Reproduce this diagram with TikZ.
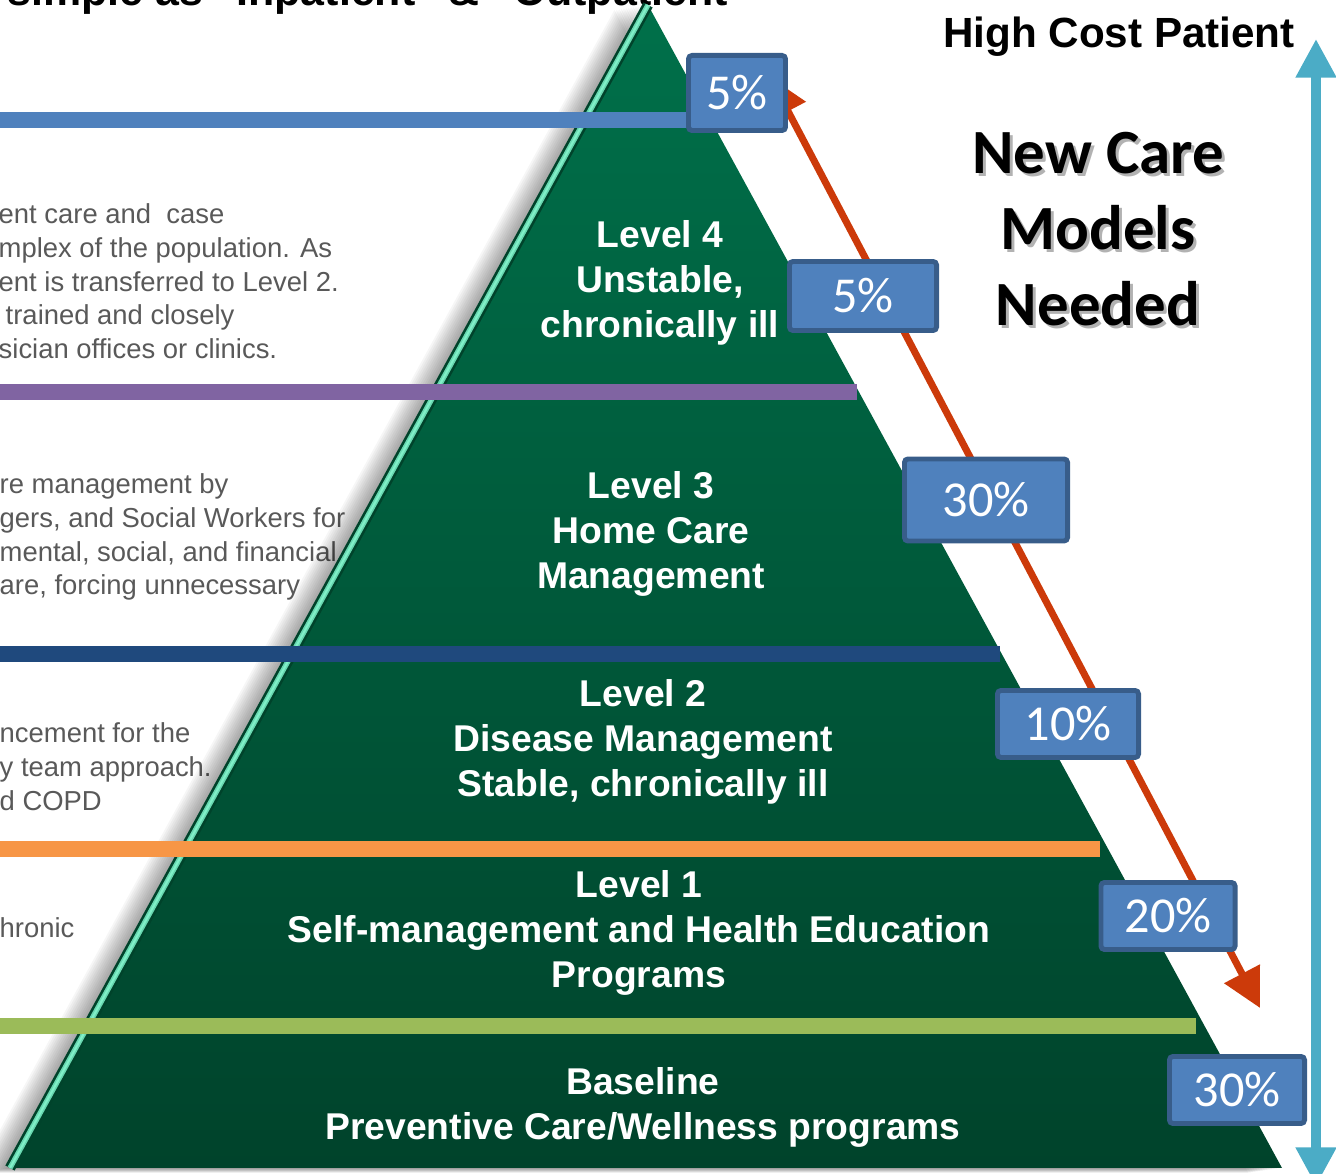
\documentclass[tikz,border=0pt]{standalone}
\usepackage{fontspec}
\setmainfont{Liberation Sans}
\newfontfamily\carlito{Carlito}
\usetikzlibrary{arrows.meta}
\definecolor{pyrtop}{HTML}{00704A}
\definecolor{pyrbot}{HTML}{00432B}
\definecolor{mint}{HTML}{80F0C8}
\definecolor{boxblue}{HTML}{4F81BD}
\definecolor{boxedge}{HTML}{385D8A}
\definecolor{bandpurple}{HTML}{8064A2}
\definecolor{bandnavy}{HTML}{1F497D}
\definecolor{bandorange}{HTML}{F79646}
\definecolor{bandgreen}{HTML}{9BBB59}
\definecolor{costred}{HTML}{CC3A0A}
\definecolor{costblue}{HTML}{4BACC6}
\definecolor{notegray}{HTML}{595959}
\tikzstyle{pct} = [draw=boxedge,line width=1.4pt,fill=boxblue,text=white,rounded corners=1pt,inner sep=0pt,font=\carlito\fontsize{14.3}{16}\selectfont]
\tikzstyle{band} = [line width=4.4pt]
\tikzstyle{level} = [text=white,align=center,inner sep=0pt,font=\bfseries\fontsize{10.6}{12.8}\selectfont]
\tikzstyle{note} = [text=notegray,align=left,anchor=north west,inner sep=0pt,font=\fontsize{7.8}{9.6}\selectfont]
\tikzstyle{costarrow} = [line width=2pt,{Triangle[length=11pt,width=11pt]}-{Triangle[length=11pt,width=11pt]}]
\tikzstyle{bigword} = [align=center,inner sep=0pt,font=\carlito\bfseries\fontsize{17.9}{21.6}\selectfont]

\begin{document}
\begin{tikzpicture}[x=0.01cm,y=-0.01cm]
  \useasboundingbox (0,0) rectangle (1336,1174);
  \node[anchor=base west,inner sep=0pt,font=\bfseries\fontsize{12.2}{14}\selectfont] (title) at (7,6) {simple as “Inpatient” \& “Outpatient”};

  \node[note] (noteA) at (-2,203) {ent care and \ case\\mplex of the population. As\\ent is transferred to Level 2.\\\hspace*{2pt}trained and closely\\sician offices or clinics.};
  \node[note] (noteB) at (-1,473) {re management by\\gers, and Social Workers for\\mental, social, and financial\\are, forcing unnecessary};
  \node[note] (noteC) at (-1,722) {ncement for the\\y team approach.\\d COPD};
  \node[note] (noteD) at (-1,917) {hronic};

  \foreach \s in {1,...,14}
    \fill[black,opacity=0.036,shift={(-2.4*\s,0.35*\s)}] (648,5) -- (1282,1168) -- (10,1168) -- cycle;
  \coordinate (apex) at (648,5);
  \coordinate (br) at (1282,1168);
  \coordinate (bl) at (10,1168);
  \shade[top color=pyrtop,bottom color=pyrbot] (apex) -- (br) -- (bl) -- cycle;
  \draw[line width=3pt,pyrbot] (bl) -- (apex);
  \draw[line width=1.5pt,mint!80!pyrtop] (bl) -- (apex);
  \draw[line width=0.6pt,mint] (bl) -- (apex);

  \draw[band,boxblue] (0,120) -- (690,120);
  \draw[band,bandpurple] (0,392) -- (857,392);
  \draw[band,bandnavy] (0,654) -- (1000,654);
  \draw[band,bandorange] (0,849) -- (1100,849);
  \draw[band,bandgreen] (0,1026) -- (1196,1026);

  \node[level] (lvl4) at (660,283) {Level 4\\Unstable,\\chronically ill};
  \node[level] (lvl3) at (651,534) {Level 3\\Home Care\\Management};
  \node[level] (lvl2) at (643,742) {Level 2\\Disease Management\\Stable, chronically ill};
  \node[level] (lvl1) at (639,933) {Level 1\\Self-management and Health Education\\Programs};
  \node[level] (lvl0) at (643,1107) {Baseline\\Preventive Care/Wellness programs};

  \coordinate (costtop) at (770,77);
  \coordinate (costbot) at (1260,1008);
  \draw[costarrow,costred] (costtop) -- (costbot);

  \node[pct,minimum width=0.97cm,minimum height=0.75cm] (p4a) at (737,93) {5\%};
  \node[pct,minimum width=1.47cm,minimum height=0.69cm] (p4b) at (863,296) {5\%};
  \node[pct,minimum width=1.63cm,minimum height=0.82cm] (p3) at (986,500) {30\%};
  \node[pct,minimum width=1.41cm,minimum height=0.67cm] (p2) at (1068,724) {10\%};
  \node[pct,minimum width=1.34cm,minimum height=0.67cm] (p1) at (1168,916) {20\%};
  \node[pct,minimum width=1.35cm,minimum height=0.67cm] (p0) at (1237,1090) {30\%};

  \coordinate (hightop) at (1316,39);
  \coordinate (lowend) at (1316,1186);
  \draw[costarrow,costblue,line width=2.6pt] (hightop) -- (lowend);

  \node[font=\bfseries\fontsize{12}{14}\selectfont,inner sep=0pt] (hcp) at (1119,37) {High Cost Patient};
  \node[bigword,text=black!60,opacity=0.5] (ncmshadow) at (1101,232) {New Care\\Models\\Needed};
  \node[bigword] (ncm) at (1098,229) {New Care\\Models\\Needed};
\end{tikzpicture}
\end{document}
